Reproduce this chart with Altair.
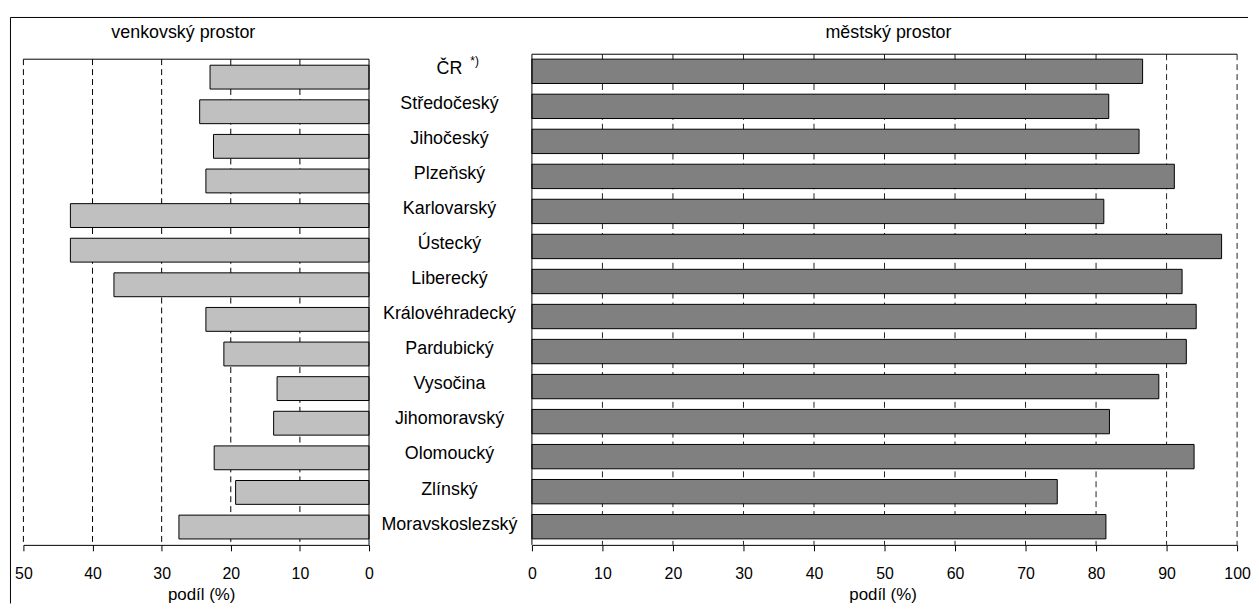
import altair as alt
import pandas as pd

kraje = ["ČR", "Středočeský", "Jihočeský", "Plzeňský", "Karlovarský", "Ústecký", "Liberecký",
         "Královéhradecký", "Pardubický", "Vysočina", "Jihomoravský", "Olomoucký", "Zlínský",
         "Moravskoslezský"]
venkov = [23.0, 24.5, 22.5, 23.6, 43.2, 43.2, 36.9, 23.6, 21.0, 13.3, 13.8, 22.4, 19.3, 27.5]
mesto = [86.6, 81.8, 86.1, 91.1, 81.1, 97.8, 92.2, 94.2, 92.8, 88.9, 81.9, 93.9, 74.5, 81.4]
ticks_left = [0, 10, 20, 30, 40, 50]
grid_left = [10, 20, 30, 40, 50]
ticks_right = [0, 10, 20, 30, 40, 50, 60, 70, 80, 90, 100]
grid_right = [10, 20, 30, 40, 50, 60, 70, 80, 90, 100]
title_left = "venkovský prostor"
title_right = "městský prostor"
axis_title = "podíl (%)"
note_label = "ČR"
note_text = "*)"

FONT = "Liberation Sans"
W_L, W_M, W_R, H = 348, 164, 710, 494

df = pd.DataFrame({"kraj": kraje, "venkov": venkov, "mesto": mesto})
one = pd.DataFrame({"a": [0]})

xl = alt.Scale(domain=[0, 50], reverse=True)
xr = alt.Scale(domain=[0, 100])
yl = alt.Scale(paddingInner=0.311, paddingOuter=0.244, align=0.65)
yr = alt.Scale(paddingInner=0.305, paddingOuter=0.156, align=0.45)

ax = dict(tickSize=6, tickColor="black", domainColor="black", labelFontSize=16, labelFont=FONT,
          labelColor="black", labelPadding=15, labelFlush=False, labelOverlap=False, grid=False,
          titleFontSize=17, titleFont=FONT, titleFontWeight="normal", titleColor="black",
          titleBaseline="alphabetic", titleY=54.5)

axis_l = alt.Axis(values=ticks_left, titleX=179, **ax)
axis_r = alt.Axis(values=ticks_right, titleX=353, **ax)

dash = [6, 4]

# ---------- left panel ----------
grid_l = alt.Chart(pd.DataFrame({"g": grid_left})).mark_rule(
    color="black", strokeWidth=1, strokeDash=dash).encode(
    x=alt.X("g:Q", scale=xl, axis=axis_l, title=axis_title),
    y=alt.value(5), y2=alt.value(H))

bars_l = alt.Chart(df).mark_bar(fill="#C0C0C0", stroke="black", strokeWidth=1).encode(
    x=alt.X("venkov:Q", scale=xl, axis=axis_l, title=axis_title),
    y=alt.Y("kraj:N", sort=kraje, scale=yl, axis=None))

top_l = alt.Chart(one).mark_rule(color="black", strokeWidth=1).encode(
    x=alt.value(0), x2=alt.value(W_L), y=alt.value(5))
right_l = alt.Chart(one).mark_rule(color="black", strokeWidth=1).encode(
    x=alt.value(W_L), y=alt.value(5), y2=alt.value(H))

frame_top = alt.Chart(one).mark_rule(color="black", strokeWidth=1).encode(
    x=alt.value(-13), x2=alt.value(1233), y=alt.value(-37))
frame_left = alt.Chart(one).mark_rule(color="black", strokeWidth=1).encode(
    x=alt.value(-13), y=alt.value(-37), y2=alt.value(553))

ttl_l = alt.Chart(pd.DataFrame({"t": [title_left]})).mark_text(
    font=FONT, fontSize=18, color="black", align="center", baseline="alphabetic").encode(
    text="t:N", x=alt.value(161), y=alt.value(-16.5))

left = alt.layer(grid_l, bars_l, top_l, right_l, frame_top, frame_left, ttl_l).properties(
    width=W_L, height=H)

# ---------- middle labels ----------
labels = alt.Chart(df).mark_text(font=FONT, fontSize=18, color="black", align="center",
                                  baseline="middle", dy=-1).encode(
    text="kraj:N", x=alt.value(81),
    y=alt.Y("kraj:N", sort=kraje, scale=yr, axis=None))

note = alt.Chart(pd.DataFrame({"kraj": [note_label], "t": [note_text]})).mark_text(
    font=FONT, fontSize=12, color="black", align="left", baseline="middle", dy=-9).encode(
    text="t:N", x=alt.value(102),
    y=alt.Y("kraj:N", sort=kraje, scale=yr, axis=None))

mid = alt.layer(labels, note).properties(width=W_M, height=H)

# ---------- right panel ----------
grid_r = alt.Chart(pd.DataFrame({"g": grid_right})).mark_rule(
    color="#222222", strokeWidth=1, strokeDash=dash).encode(
    x=alt.X("g:Q", scale=xr, axis=axis_r, title=axis_title),
    y=alt.value(0), y2=alt.value(H))

bars_r = alt.Chart(df).mark_bar(fill="#808080", stroke="black", strokeWidth=1).encode(
    x=alt.X("mesto:Q", scale=xr, axis=axis_r, title=axis_title),
    y=alt.Y("kraj:N", sort=kraje, scale=yr, axis=None))

top_r = alt.Chart(one).mark_rule(color="black", strokeWidth=1).encode(
    x=alt.value(0), x2=alt.value(W_R), y=alt.value(0))
left_r = alt.Chart(one).mark_rule(color="black", strokeWidth=1).encode(
    x=alt.value(0), y=alt.value(0), y2=alt.value(H))

ttl_r = alt.Chart(pd.DataFrame({"t": [title_right]})).mark_text(
    font=FONT, fontSize=18, color="black", align="center", baseline="alphabetic").encode(
    text="t:N", x=alt.value(359), y=alt.value(-16.5))

right = alt.layer(grid_r, bars_r, top_r, left_r, ttl_r).properties(width=W_R, height=H)

chart = alt.hconcat(left, mid, right, spacing=0, bounds="flush").configure_view(
    stroke=None).properties(
    padding={"left": 1.5, "top": 6.5, "right": 0, "bottom": 0}, background="white")

chart.save("out.html", embed_options={"renderer": "svg", "actions": False})
